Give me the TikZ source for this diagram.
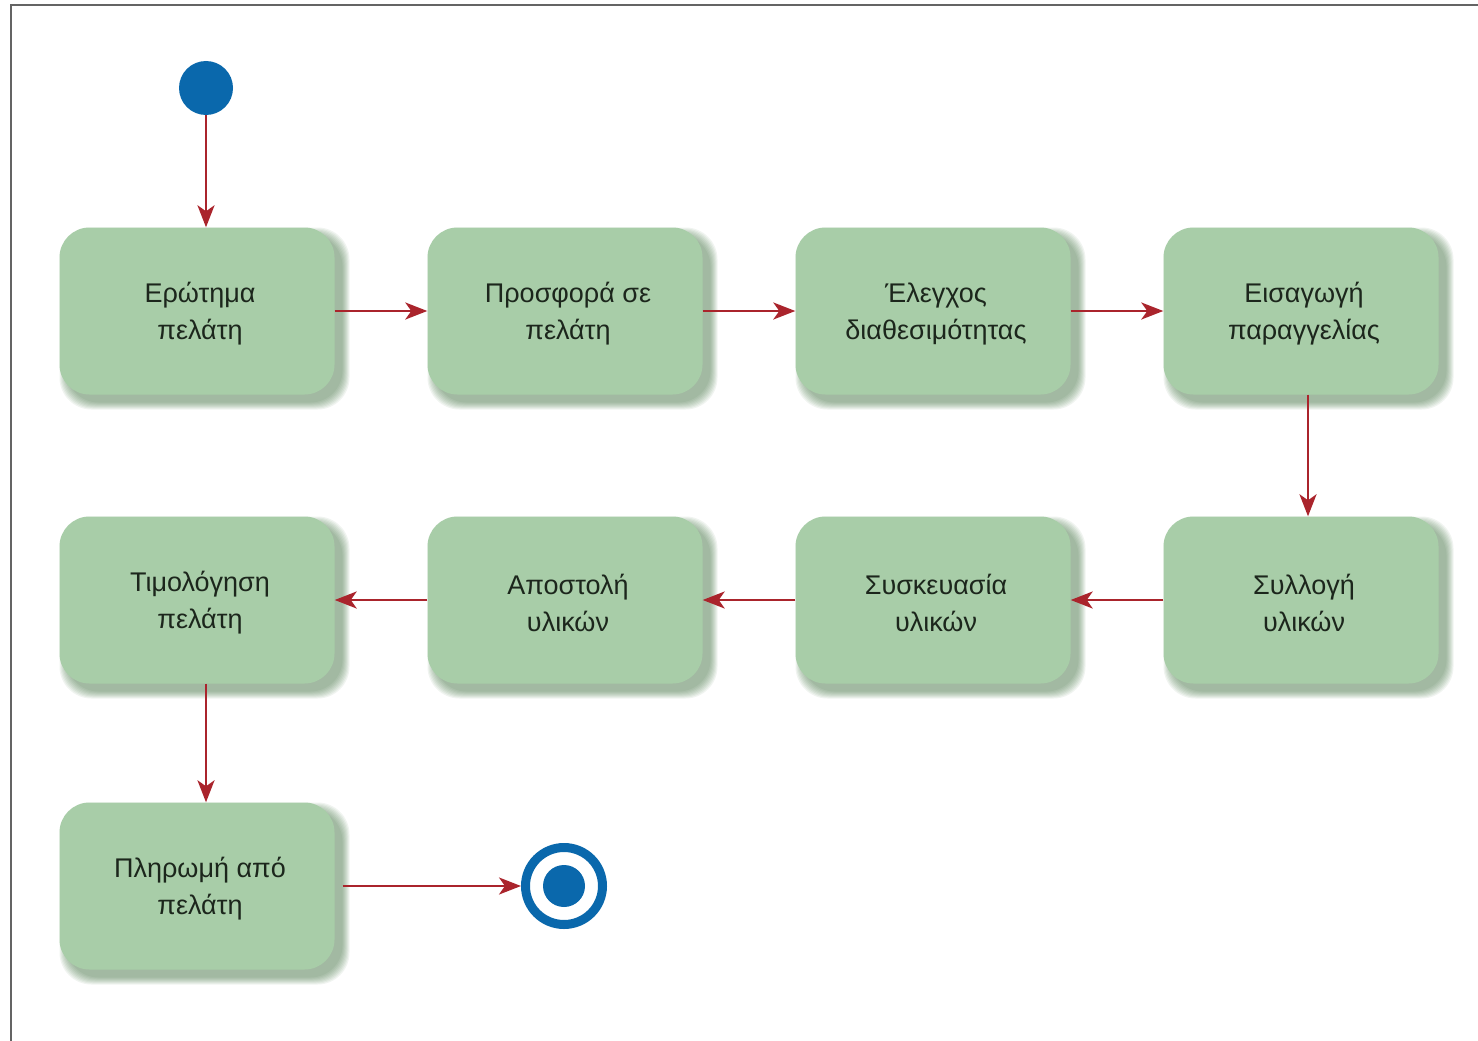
\documentclass[tikz,border=0pt]{standalone}
\usepackage{fontspec}
\setmainfont{Liberation Sans}
\usetikzlibrary{arrows.meta}

\definecolor{boxgreen}{RGB}{168,205,168}
\definecolor{shadowgreen}{RGB}{60,110,60}
\definecolor{flowred}{RGB}{170,36,44}
\definecolor{stateblue}{RGB}{10,104,172}
\definecolor{labeltext}{RGB}{28,38,28}
\definecolor{framegray}{RGB}{100,100,100}

\tikzset{
  stepbox/.style={rounded corners=30pt, fill=boxgreen, minimum width=275pt,
    minimum height=167pt, inner sep=0pt},
  steptext/.style={text=labeltext, align=center,
    font=\fontsize{27}{37}\selectfont, inner sep=0pt},
  flow/.style={draw=flowred, line width=2.6pt,
    -{Stealth[length=22pt,width=17pt,inset=6pt]}},
  initstate/.style={circle, fill=stateblue, minimum size=54pt, inner sep=0pt},
  finalstate/.style={circle, draw=stateblue, line width=9pt, fill=white,
    minimum size=77pt, inner sep=0pt},
}

% rounded activity box with a soft shadow to the lower right
\newcommand\activity[4]{%
  \foreach \k in {0,...,7}{%
    \fill[shadowgreen, opacity=0.075, rounded corners=32pt]
      ({#2-137.5+\k},{#3-83.5+\k}) rectangle ({#2+137.5+15-\k},{#3+83.5+15-\k});
  }
  \node[stepbox] (#1) at (#2,#3) {};
  \node[steptext] (#1-text) at ([xshift=3pt,yshift=-3pt]#1.center) {#4};
}

\begin{document}
\begin{tikzpicture}[x=1pt,y=-1pt]
  \useasboundingbox (0,0) rectangle (1478,1041);
  \fill[white] (0,0) rectangle (1478,1041);

  % frame lines at the top and on the left
  \draw[framegray, line width=2pt] (11,1041) -- (11,5) -- (1478,5);

  % first row
  \activity{ask}{197}{311}{Ερώτημα\\πελάτη}
  \activity{offer}{565}{311}{Προσφορά σε\\πελάτη}
  \activity{check}{933}{311}{Έλεγχος\\διαθεσιμότητας}
  \activity{order}{1301}{311}{Εισαγωγή\\παραγγελίας}

  % second row
  \activity{collect}{1301}{600}{Συλλογή\\υλικών}
  \activity{pack}{933}{600}{Συσκευασία\\υλικών}
  \activity{ship}{565}{600}{Αποστολή\\υλικών}
  \activity{invoice}{197}{600}{Τιμολόγηση\\πελάτη}

  % third row
  \activity{pay}{197}{886}{Πληρωμή από\\πελάτη}

  % start and end states
  \node[initstate] (start) at (206,88) {};
  \node[finalstate] (stop) at (564,886) {};
  \fill[stateblue] (stop.center) circle (21pt);

  % control flow
  \draw[flow] (start) -- (start |- ask.north);
  \draw[flow] (ask.east) -- (offer.west);
  \draw[flow] (offer.east) -- (check.west);
  \draw[flow] (check.east) -- (order.west);
  \draw[flow] ([xshift=7pt]order.south) -- ([xshift=7pt]collect.north);
  \draw[flow] (collect.west) -- (pack.east);
  \draw[flow] (pack.west) -- (ship.east);
  \draw[flow] (ship.west) -- (invoice.east);
  \draw[flow] ([xshift=9pt]invoice.south) -- ([xshift=9pt]pay.north);
  \draw[flow] ([xshift=8pt]pay.east) -- (stop.west);
\end{tikzpicture}
\end{document}
